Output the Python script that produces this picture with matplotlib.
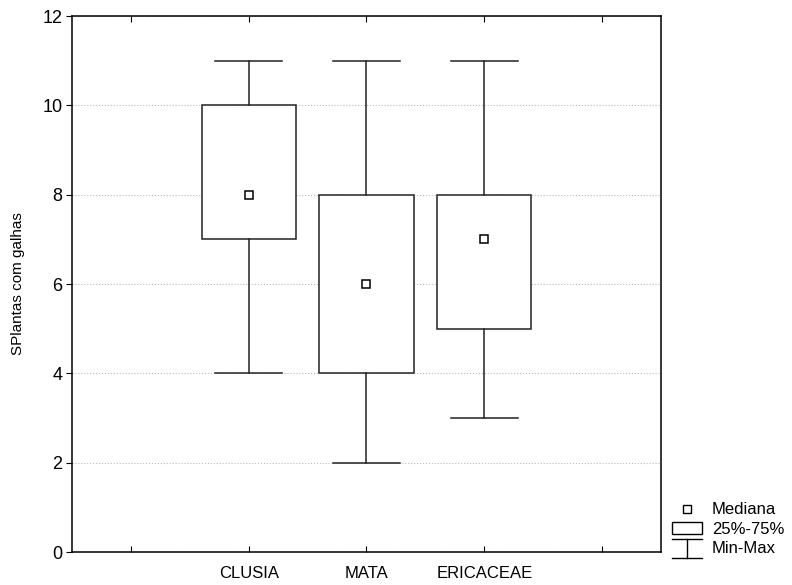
import matplotlib.pyplot as plt
from matplotlib.lines import Line2D
from matplotlib.patches import Rectangle
from matplotlib.legend_handler import HandlerBase

plt.rcParams['font.family'] = ['Liberation Sans', 'DejaVu Sans']

categories = ['CLUSIA', 'MATA', 'ERICACEAE']
positions = [2, 3, 4]
mins = [4, 2, 3]
q1s = [7, 4, 5]
medians = [8, 6, 7]
q3s = [10, 8, 8]
maxs = [11, 11, 11]


class HandlerMinMax(HandlerBase):
    def create_artists(self, legend, orig_handle, xdescent, ydescent,
                       width, height, fontsize, trans):
        cx = width / 2 - xdescent
        top = height * 1.15 - ydescent
        bot = -height * 0.45 - ydescent
        lines = [
            Line2D([-xdescent, width - xdescent], [top, top], color='black', lw=1),
            Line2D([-xdescent, width - xdescent], [bot, bot], color='black', lw=1),
            Line2D([cx, cx], [bot, top], color='black', lw=1),
        ]
        for l in lines:
            l.set_transform(trans)
        return lines


fig = plt.figure(figsize=(7.92, 5.85), dpi=100)
ax = fig.add_axes([0.0909, 0.0564, 0.7437, 0.9162])

stats = []
for i in range(len(categories)):
    stats.append({'med': medians[i], 'q1': q1s[i], 'q3': q3s[i],
                  'whislo': mins[i], 'whishi': maxs[i], 'fliers': [],
                  'label': categories[i]})

ax.bxp(stats, positions=positions, widths=0.8, capwidths=0.57,
       patch_artist=True, showfliers=False,
       boxprops=dict(facecolor='white', edgecolor='#222222', linewidth=1.1),
       whiskerprops=dict(color='#222222', linewidth=1.1),
       capprops=dict(color='#222222', linewidth=1.1),
       medianprops=dict(visible=False), zorder=2)
ax.plot(positions, medians, 's', markersize=6, markerfacecolor='white',
        markeredgecolor='black', markeredgewidth=1.1, zorder=3)

ax.set_xlim(0.5, 5.5)
ax.set_ylim(0, 12)
ax.set_xticks([1, 2, 3, 4, 5])
ax.set_xticklabels(['', 'CLUSIA', 'MATA', 'ERICACEAE', ''])
ax.set_yticks(range(0, 13, 2))
ax.tick_params(axis='x', direction='in', top=True, length=4, labelsize=12, pad=10)
ax.tick_params(axis='y', direction='out', length=4, labelsize=13, pad=3)
ax.yaxis.grid(True, linestyle=':', color='#bbbbbb', linewidth=0.8, zorder=0)
ax.set_axisbelow(True)
for s in ax.spines.values():
    s.set_linewidth(1.1)
ax.set_ylabel('SPlantas com galhas', fontsize=11)
ax.yaxis.set_label_coords(-0.08, 0.5)

handles = [
    Line2D([], [], marker='s', linestyle='none', markersize=6,
           markerfacecolor='white', markeredgecolor='black'),
    Rectangle((0, 0), 1, 1, facecolor='white', edgecolor='black'),
    Line2D([], []),
]
fig.legend(handles, ['Mediana', '25%-75%', 'Min-Max'],
           handler_map={handles[2]: HandlerMinMax()},
           loc='lower left', bbox_to_anchor=(0.8485, 0.05), frameon=False,
           fontsize=12, handlelength=1.8, handletextpad=0.6, labelspacing=0.25,
           borderpad=0, borderaxespad=0)

fig.savefig('out.png', dpi=100)
